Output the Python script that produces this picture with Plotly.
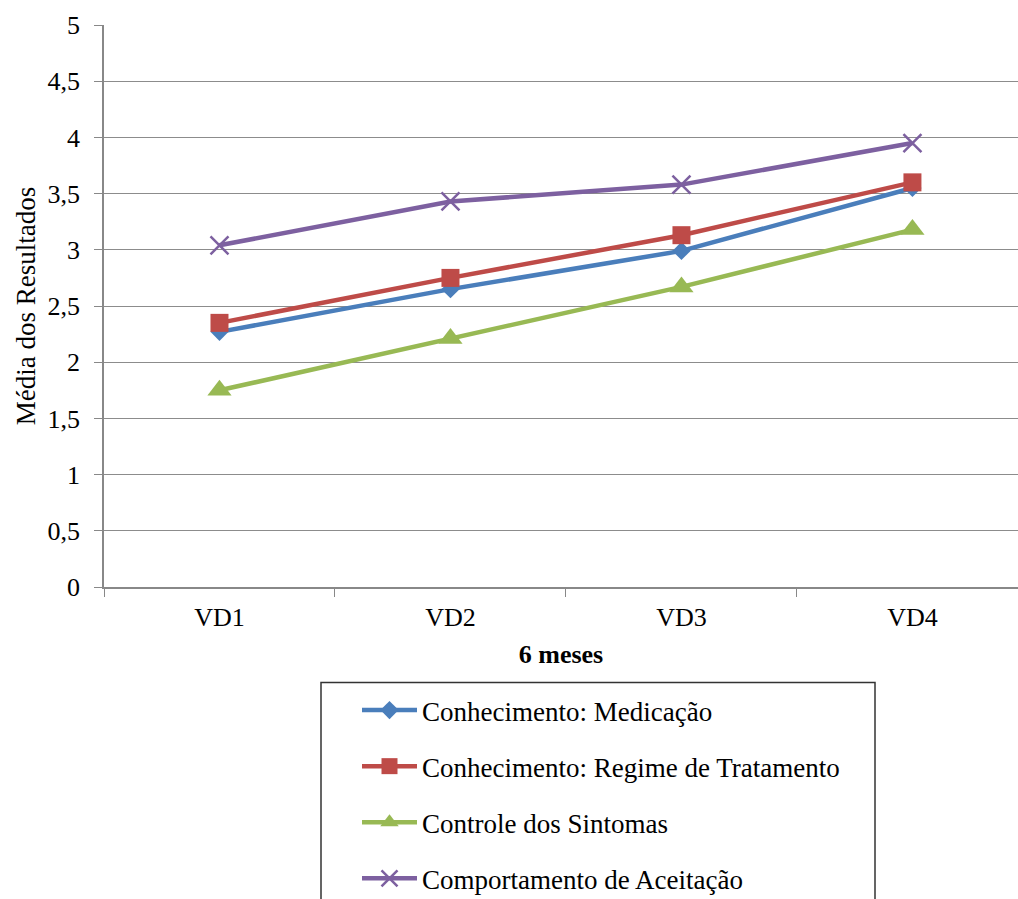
import plotly.graph_objects as go

categories = ["VD1", "VD2", "VD3", "VD4"]
medicacao = [2.27, 2.65, 2.99, 3.55]
regime = [2.35, 2.75, 3.13, 3.60]
controle = [1.75, 2.21, 2.67, 3.18]
aceitacao = [3.04, 3.43, 3.58, 3.95]
series_names = ["Conhecimento: Medicação", "Conhecimento: Regime de Tratamento",
                "Controle dos Sintomas", "Comportamento de Aceitação"]
y_tickvals = [0, 0.5, 1, 1.5, 2, 2.5, 3, 3.5, 4, 4.5, 5]
y_ticktext = ["0", "0,5", "1", "1,5", "2", "2,5", "3", "3,5", "4", "4,5", "5"]

FONT = "Liberation Serif"
FS = 26

W, H = 1018, 899
L, R, T, B = 104, 0, 25, 312
PW, PH = W - L - R, H - T - B


def px_x(p):
    return (p - L) / PW


def px_y(p):
    return (H - B - p) / PH


styles = [
    dict(color="#4A7EBB", symbol="diamond", size=14),
    dict(color="#BE4B48", symbol="square", size=18),
    dict(color="#98B954", symbol="triangle-up", size=21),
    dict(color="#7D60A0", symbol="x-thin-open", size=18),
]

fig = go.Figure()
for i, (name, vals) in enumerate(zip(series_names, [medicacao, regime, controle, aceitacao])):
    st = styles[i]
    marker = dict(symbol=st["symbol"], size=st["size"], color=st["color"])
    if st["symbol"] == "x-thin-open":
        marker["line"] = dict(color=st["color"], width=2.5)
    fig.add_trace(go.Scatter(
        x=categories, y=vals, name=name, mode="lines+markers",
        line=dict(color=st["color"], width=4.5),
        marker=marker, legendgroup=f"g{i}",
    ))

# legend frame
fig.add_shape(type="rect", xref="paper", yref="paper",
              x0=px_x(321), x1=px_x(875), y0=px_y(910), y1=px_y(682.5),
              line=dict(color="#333333", width=1.5), fillcolor="rgba(0,0,0,0)", layer="above")

fig.update_layout(
    width=W, height=H,
    margin=dict(l=L, r=R, t=T, b=B, autoexpand=False),
    paper_bgcolor="white", plot_bgcolor="white",
    font=dict(family=FONT, size=FS, color="black"),
    showlegend=True,
    legend=dict(
        x=px_x(357), xref="paper", y=(H - 686) / H, yref="container",
        xanchor="left", yanchor="top",
        borderwidth=0,
        font=dict(family=FONT, size=27, color="black"),
        tracegroupgap=18, itemwidth=55,
        bgcolor="rgba(0,0,0,0)",
    ),
)

fig.update_xaxes(
    type="category", range=[-0.5, 3.457], automargin=False,
    tickson="boundaries", ticks="outside", ticklen=8, tickcolor="#888888",
    ticklabelstandoff=6,
    showline=True, linecolor="#888888", linewidth=1.5,
    showgrid=False,
    tickfont=dict(family=FONT, size=FS),
    title=dict(text="<b>6 meses</b>", font=dict(family=FONT, size=FS), standoff=14),
)
fig.update_yaxes(
    range=[0, 5], tickvals=y_tickvals, ticktext=y_ticktext, automargin=False,
    ticks="outside", ticklen=8, tickcolor="#888888",
    ticklabelstandoff=9,
    showline=True, linecolor="#888888", linewidth=1.5,
    showgrid=True, gridcolor="#8c8c8c", gridwidth=1.2,
    zeroline=False,
    tickfont=dict(family=FONT, size=FS),
    title=dict(text="Média dos Resultados", font=dict(family=FONT, size=27), standoff=4),
)

fig.write_html("out.html", post_script="document.body.style.margin='0px';",
               config={"displayModeBar": False})
